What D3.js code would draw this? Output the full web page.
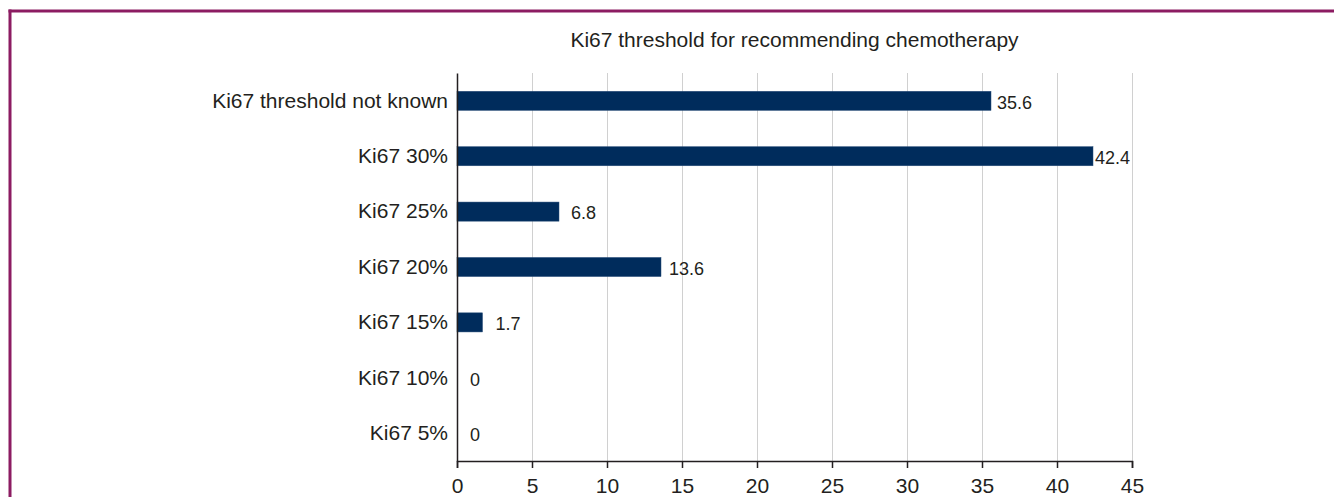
<!DOCTYPE html>
<html>
<head>
  <meta charset="utf-8">
  <title>Ki67 threshold</title>
  <style>
    body { margin: 0; background: #fff; }
    svg { display: block; font-family: "Liberation Sans", Arial, sans-serif; }
  </style>
</head>
<body>
  <svg width="1334" height="497" class="chart"></svg>

  <script src="https://d3js.org/d3.v7.min.js"></script>
  <script type="text/javascript">

  // data
  var categories = ["Ki67 threshold not known", "Ki67 30%", "Ki67 25%", "Ki67 20%", "Ki67 15%", "Ki67 10%", "Ki67 5%"];
  var values = [35.6, 42.4, 6.8, 13.6, 1.7, 0, 0];
  var xTicks = [0, 5, 10, 15, 20, 25, 30, 35, 40, 45];
  var title = "Ki67 threshold for recommending chemotherapy";

  var svg = d3.select(".chart");
  // note: "top" is taken by window.top, so use other names
  var plotLeft = 457, plotRight = 1132, plotTop = 73, plotBottom = 461;

  // frame lines (top and left only)
  svg.append("line").attr("x1", 8.5).attr("x2", 1334).attr("y1", 11).attr("y2", 11)
    .attr("stroke", "#8c1c62").attr("stroke-width", 3);
  svg.append("line").attr("x1", 10).attr("x2", 10).attr("y1", 9.5).attr("y2", 497)
    .attr("stroke", "#8c1c62").attr("stroke-width", 3);

  var x = d3.scaleLinear().domain([0, 45]).range([plotLeft, plotRight]);
  var y = d3.scaleBand().domain(categories).range([plotTop, plotBottom]).paddingInner(0.655).paddingOuter(0.33);

  // gridlines
  svg.append("g").selectAll("line")
    .data(xTicks.slice(1))
    .enter().append("line")
    .attr("x1", function(d) { return x(d) + 0.5; })
    .attr("x2", function(d) { return x(d) + 0.5; })
    .attr("y1", plotTop)
    .attr("y2", plotBottom)
    .attr("stroke", "#d0d0d0")
    .attr("stroke-width", 1);

  // bars
  svg.append("g").selectAll("rect")
    .data(values)
    .enter().append("rect")
    .attr("x", x(0))
    .attr("y", function(d, i) { return y(categories[i]); })
    .attr("width", function(d) { return x(d) - x(0); })
    .attr("height", y.bandwidth())
    .attr("fill", "#002c5c")
    .attr("stroke", "#2a4f7a")
    .attr("stroke-width", 0.5);

  // value labels
  svg.append("g").selectAll("text")
    .data(values)
    .enter().append("text")
    .attr("x", function(d) { return x(d) + (d > 40 ? 2 : d > 20 ? 6 : d > 10 ? 8 : d > 5 ? 12 : 13); })
    .attr("y", function(d, i) { return y(categories[i]) + y.bandwidth() / 2 + 1.5; })
    .attr("dy", "0.35em")
    .attr("font-size", "18px")
    .attr("fill", "#231f20")
    .text(function(d) { return d; });

  // x axis
  var xAxis = d3.axisBottom(x).tickValues(xTicks).tickSize(7).tickPadding(10);
  var gx = svg.append("g").attr("transform", "translate(0," + plotBottom + ")").call(xAxis);
  gx.select(".domain").attr("stroke", "#231f20").attr("stroke-width", 1.5);
  gx.selectAll(".tick line").attr("stroke", "#231f20").attr("stroke-width", 1.5);
  gx.selectAll("text").attr("font-size", "21px").attr("fill", "#231f20")
    .attr("font-family", "Liberation Sans, Arial, sans-serif");

  // y axis
  var yAxis = d3.axisLeft(y).tickSize(0).tickPadding(9);
  var gy = svg.append("g").attr("transform", "translate(" + plotLeft + ",0)").call(yAxis);
  gy.select(".domain").attr("stroke", "#231f20").attr("stroke-width", 1.5);
  gy.selectAll("text").attr("font-size", "21px").attr("fill", "#231f20")
    .attr("font-family", "Liberation Sans, Arial, sans-serif");

  // title
  svg.append("text")
    .attr("x", (plotLeft + plotRight) / 2)
    .attr("y", 40)
    .attr("dy", "0.35em")
    .attr("text-anchor", "middle")
    .attr("font-size", "21px")
    .attr("fill", "#231f20")
    .text(title);

  </script>
</body>
</html>
